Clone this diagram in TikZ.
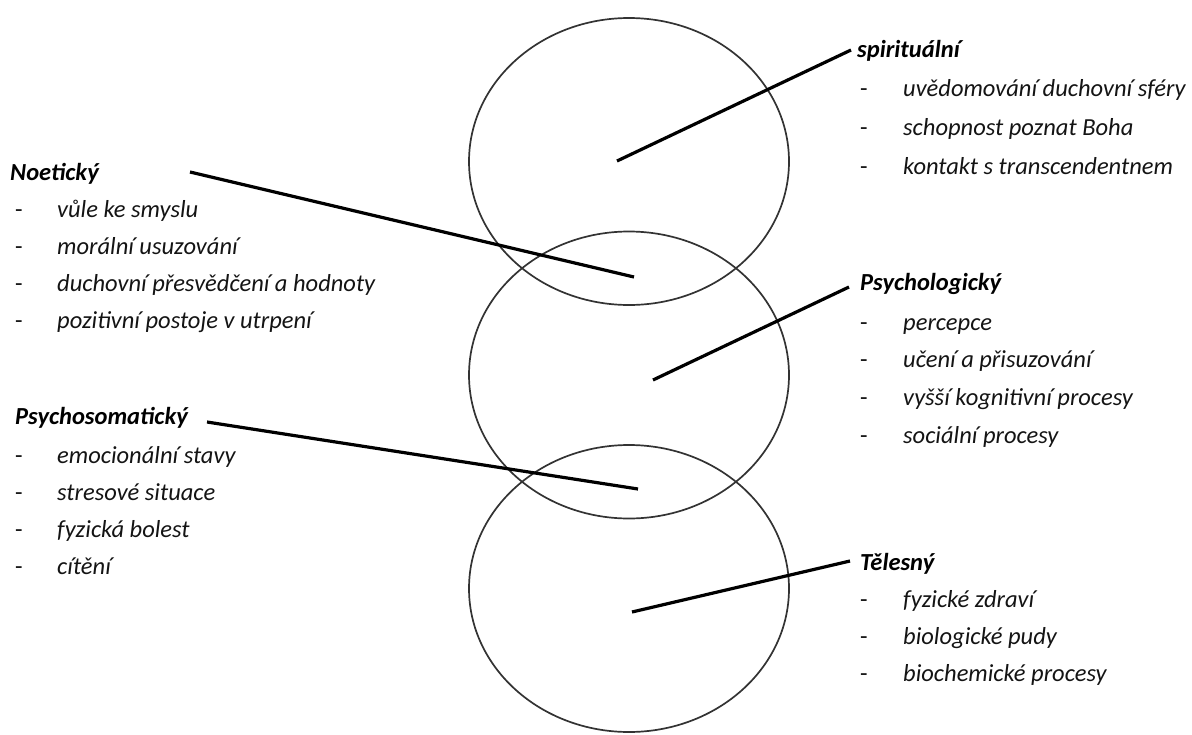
\documentclass[tikz,border=0pt]{standalone}
\usepackage{fontspec}
\setmainfont{Carlito}
\usetikzlibrary{shapes.geometric}
\begin{document}
\begin{tikzpicture}[x=1pt,y=-1pt,
  sphere/.style={draw=black!80, line width=1.7pt, ellipse, minimum width=320pt, minimum height=287pt, inner sep=0pt},
  conn/.style={line width=3.2pt, black},
  head/.style={anchor=base west, inner sep=0pt, font=\fontsize{24.5}{26}\selectfont\bfseries\itshape, text=black},
  item/.style={anchor=base west, inner sep=0pt, font=\fontsize{24.5}{26}\selectfont\itshape, text=black!92},
  dashmark/.style={anchor=base west, inner sep=0pt, font=\fontsize{24.5}{26}\selectfont, text=black!92}]
\useasboundingbox (0,0) rectangle (1192,734);

% spheres
\node[sphere] (top) at (629,161.5) {};
\node[sphere] (mid) at (629,375) {};
\node[sphere] (bot) at (629,588.5) {};

% left: Noeticky
\node[head] (noeH) at (10,180) {Noetický};
\node[dashmark] (noeD1) at (15,217) {-}; \node[item] (noe1) at (57,217) {vůle ke smyslu};
\node[dashmark] (noeD2) at (15,254) {-}; \node[item] (noe2) at (57,254) {morální usuzování};
\node[dashmark] (noeD3) at (15,291) {-}; \node[item] (noe3) at (57,291) {duchovní přesvědčení a hodnoty};
\node[dashmark] (noeD4) at (15,328) {-}; \node[item] (noe4) at (57,328) {pozitivní postoje v utrpení};

% left: Psychosomaticky
\node[head] (psoH) at (15,424) {Psychosomatický};
\node[dashmark] (psoD1) at (15,463) {-}; \node[item] (pso1) at (57,463) {emocionální stavy};
\node[dashmark] (psoD2) at (15,500) {-}; \node[item] (pso2) at (57,500) {stresové situace};
\node[dashmark] (psoD3) at (15,537) {-}; \node[item] (pso3) at (57,537) {fyzická bolest};
\node[dashmark] (psoD4) at (15,574) {-}; \node[item] (pso4) at (57,574) {cítění};

% right: spiritualni
\node[head] (spiH) at (857,57) {spirituální};
\node[dashmark] (spiD1) at (860,96) {-}; \node[item] (spi1) at (903,96) {uvědomování duchovní sféry};
\node[dashmark] (spiD2) at (860,135) {-}; \node[item] (spi2) at (903,135) {schopnost poznat Boha};
\node[dashmark] (spiD3) at (860,174) {-}; \node[item] (spi3) at (903,174) {kontakt s transcendentnem};

% right: Psychologicky
\node[head] (pslH) at (860,290) {Psychologický};
\node[dashmark] (pslD1) at (860,330) {-}; \node[item] (psl1) at (903,330) {percepce};
\node[dashmark] (pslD2) at (860,367) {-}; \node[item] (psl2) at (903,367) {učení a přisuzování};
\node[dashmark] (pslD3) at (860,405) {-}; \node[item] (psl3) at (903,405) {vyšší kognitivní procesy};
\node[dashmark] (pslD4) at (860,443) {-}; \node[item] (psl4) at (903,443) {sociální procesy};

% right: Telesny
\node[head] (telH) at (860,570) {Tělesný};
\node[dashmark] (telD1) at (860,607) {-}; \node[item] (tel1) at (903,607) {fyzické zdraví};
\node[dashmark] (telD2) at (860,644) {-}; \node[item] (tel2) at (903,644) {biologické pudy};
\node[dashmark] (telD3) at (860,681) {-}; \node[item] (tel3) at (903,681) {biochemické procesy};

% connector ends
\coordinate (spiIn) at (617,161);  \coordinate (spiOut) at (851,50);
\coordinate (noeOut) at (190,172); \coordinate (noeIn) at (634,277);
\coordinate (pslIn) at (653,380);  \coordinate (pslOut) at (849,287);
\coordinate (psoOut) at (207,422); \coordinate (psoIn) at (638,489);
\coordinate (telIn) at (632,612);  \coordinate (telOut) at (850,561);

\draw[conn] (spiIn) -- (spiOut);
\draw[conn] (noeOut) -- (noeIn);
\draw[conn] (pslIn) -- (pslOut);
\draw[conn] (psoOut) -- (psoIn);
\draw[conn] (telIn) -- (telOut);
\end{tikzpicture}
\end{document}
